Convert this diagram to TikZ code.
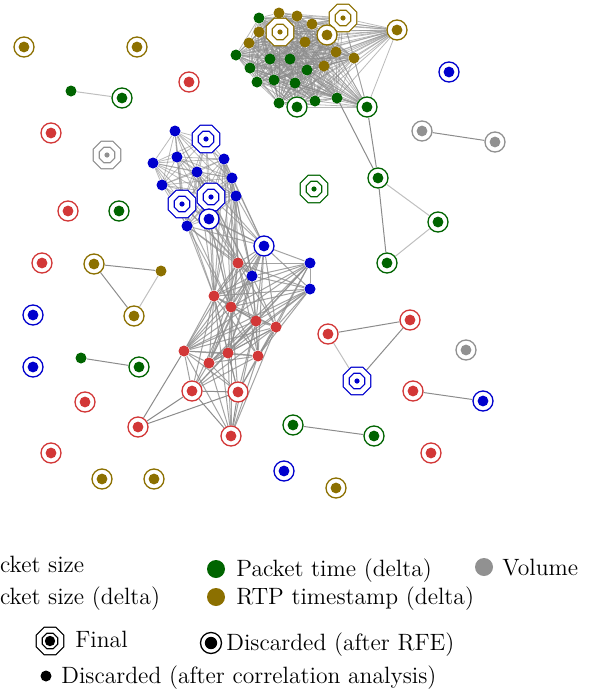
\documentclass[tikz,border=0pt]{standalone}
\usepackage{xcolor}
\usepackage{tikz}
\usetikzlibrary{shapes.geometric, positioning, backgrounds}

\definecolor{sizered}{RGB}{210,55,55}
\definecolor{deltablue}{RGB}{0,0,205}
\definecolor{timegreen}{RGB}{0,100,0}
\definecolor{rtpgold}{RGB}{140,112,0}
\definecolor{volgray}{RGB}{145,145,145}

\begin{document}
\begin{tikzpicture}[
    x=0.5pt, y=-0.5pt,
    dot/.style={circle, fill=#1, inner sep=0pt, minimum size=5.5pt},
    rfe/.style={circle, draw=#1, fill=white, line width=0.65pt, inner sep=0pt, minimum size=10pt,
        path picture={\fill[#1] (path picture bounding box.center) circle (2.7pt);}},
    final/.style={regular polygon, regular polygon sides=8, draw=#1, double=white, double distance=2.35pt,
        line width=0.65pt, fill=white, inner sep=0pt, minimum size=11.7pt, outer sep=1.8pt,
        path picture={\fill[#1] (path picture bounding box.center) circle (1.3pt);}},
    mesh/.style={draw=black!45, opacity=0.6, line width=0.4pt},
    link/.style={draw=black!45, line width=0.5pt},
    faint/.style={draw=black!25, line width=0.5pt},
    legtext/.style={anchor=base west, inner sep=0pt, font=\fontsize{11.8}{14}\selectfont}
]
    \useasboundingbox (0,0) rectangle (595,691);

    % Top cluster
    \node[dot=rtpgold] (top1) at (279,13) {};
    \node[dot=rtpgold] (top2) at (297,16) {};
    \node[dot=timegreen] (top3) at (259,18) {};
    \node[final=rtpgold] (top4) at (280,32) {};
    \node[final=rtpgold] (top5) at (343,18) {};
    \node[dot=rtpgold] (top6) at (259,32) {};
    \node[dot=rtpgold] (top7) at (312,24) {};
    \node[rfe=rtpgold] (top8) at (327,35) {};
    \node[dot=rtpgold] (top9) at (249,43) {};
    \node[dot=rtpgold] (top10) at (305,42) {};
    \node[dot=rtpgold] (top11) at (336,52) {};
    \node[dot=rtpgold] (top12) at (354,58) {};
    \node[dot=rtpgold] (top13) at (324,66) {};
    \node[dot=timegreen] (top14) at (236,55) {};
    \node[dot=timegreen] (top15) at (270,59) {};
    \node[dot=timegreen] (top16) at (290,59) {};
    \node[dot=timegreen] (top17) at (250,68) {};
    \node[dot=timegreen] (top18) at (307,70) {};
    \node[dot=timegreen] (top19) at (257,82) {};
    \node[dot=timegreen] (top20) at (274,80) {};
    \node[dot=timegreen] (top21) at (295,83) {};
    \node[dot=timegreen] (top22) at (279,103) {};
    \node[rfe=timegreen] (top23) at (297,107) {};
    \node[dot=timegreen] (top24) at (315,101) {};
    \node[dot=timegreen] (top25) at (337,98) {};
    \node[rfe=timegreen] (top26) at (367,107) {};
    \node[rfe=rtpgold] (top27) at (397,30) {};

    % Blue cluster
    \node[dot=deltablue] (blu1) at (175,131) {};
    \node[final=deltablue] (blu2) at (206,139) {};
    \node[dot=deltablue] (blu3) at (177,157) {};
    \node[dot=deltablue] (blu4) at (153,163) {};
    \node[dot=deltablue] (blu5) at (224,159) {};
    \node[dot=deltablue] (blu6) at (197,172) {};
    \node[dot=deltablue] (blu7) at (162,185) {};
    \node[dot=deltablue] (blu8) at (232,178) {};
    \node[final=deltablue] (blu9) at (211,197) {};
    \node[final=deltablue] (blu10) at (182,204) {};
    \node[dot=deltablue] (blu11) at (236,196) {};
    \node[rfe=deltablue] (blu12) at (209,219) {};
    \node[dot=deltablue] (blu13) at (187,226) {};

    % Middle cluster
    \node[rfe=deltablue] (mid1) at (264,246) {};
    \node[dot=sizered] (mid2) at (238,263) {};
    \node[dot=deltablue] (mid3) at (310,263) {};
    \node[dot=deltablue] (mid4) at (252,276) {};
    \node[dot=deltablue] (mid5) at (310,289) {};
    \node[dot=sizered] (mid6) at (214,296) {};
    \node[dot=sizered] (mid7) at (231,307) {};
    \node[dot=sizered] (mid8) at (256,321) {};
    \node[dot=sizered] (mid9) at (276,327) {};
    \node[dot=sizered] (mid10) at (184,351) {};
    \node[dot=sizered] (mid11) at (228,353) {};
    \node[dot=sizered] (mid12) at (258,356) {};
    \node[dot=sizered] (mid13) at (209,363) {};
    \node[rfe=sizered] (low1) at (192,391) {};
    \node[rfe=sizered] (low2) at (238,392) {};
    \node[rfe=sizered] (low3) at (138,427) {};
    \node[rfe=sizered] (low4) at (231,436) {};

    % Small groups and single features
    \node[rfe=rtpgold] (rtpA) at (24,47) {};
    \node[rfe=rtpgold] (rtpB) at (137,47) {};
    \node[rfe=sizered] (sizeA) at (189,82) {};
    \node[dot=timegreen] (timeA) at (71,91) {};
    \node[rfe=timegreen] (timeB) at (122,98) {};
    \node[rfe=sizered] (sizeB) at (51,133) {};
    \node[final=volgray] (volA) at (107,155) {};
    \node[rfe=sizered] (sizeC) at (68,211) {};
    \node[rfe=timegreen] (timeC) at (119,211) {};
    \node[rfe=deltablue] (deltaA) at (449,72) {};
    \node[rfe=volgray] (volB) at (422,131) {};
    \node[rfe=volgray] (volC) at (495,142) {};
    \node[final=timegreen] (timeD) at (314,189) {};
    \node[rfe=timegreen] (timeE) at (378,178) {};
    \node[rfe=timegreen] (timeF) at (438,222) {};
    \node[rfe=timegreen] (timeG) at (387,263) {};
    \node[rfe=sizered] (sizeD) at (42,263) {};
    \node[rfe=rtpgold] (rtpC) at (94,264) {};
    \node[dot=rtpgold] (rtpD) at (161,271) {};
    \node[rfe=rtpgold] (rtpE) at (134,316) {};
    \node[rfe=deltablue] (deltaB) at (33,315) {};
    \node[rfe=deltablue] (deltaC) at (33,367) {};
    \node[dot=timegreen] (timeH) at (81,358) {};
    \node[rfe=timegreen] (timeI) at (139,367) {};
    \node[rfe=sizered] (sizeE) at (85,402) {};
    \node[rfe=sizered] (sizeF) at (51,453) {};
    \node[rfe=rtpgold] (rtpF) at (102,479) {};
    \node[rfe=rtpgold] (rtpG) at (154,479) {};
    \node[rfe=sizered] (sizeG) at (328,334) {};
    \node[rfe=sizered] (sizeH) at (410,320) {};
    \node[final=deltablue] (deltaD) at (357,381) {};
    \node[rfe=volgray] (volD) at (466,350) {};
    \node[rfe=sizered] (sizeI) at (413,391) {};
    \node[rfe=deltablue] (deltaE) at (483,401) {};
    \node[rfe=timegreen] (timeJ) at (293,425) {};
    \node[rfe=timegreen] (timeK) at (374,436) {};
    \node[rfe=sizered] (sizeJ) at (431,453) {};
    \node[rfe=deltablue] (deltaF) at (284,471) {};
    \node[rfe=rtpgold] (rtpH) at (336,488) {};

    % Correlations
    \begin{scope}[on background layer]
        \foreach \i in {1,...,26}{
            \pgfmathtruncatemacro\nxt{\i+1}
            \foreach \j in {\nxt,...,27} \draw[mesh] (top\i) -- (top\j);
        }
        \foreach \i in {1,...,12}{
            \pgfmathtruncatemacro\nxt{\i+1}
            \foreach \j in {\nxt,...,13} \draw[mesh] (blu\i) -- (blu\j);
        }
        \foreach \i in {1,...,12}{
            \pgfmathtruncatemacro\nxt{\i+1}
            \foreach \j in {\nxt,...,13} \draw[link, opacity=0.8] (mid\i) -- (mid\j);
        }
        \foreach \i in {5,6,8,9,10,11,12,13}
            \foreach \j in {1,2,4,6,7} \draw[link, opacity=0.7] (blu\i) -- (mid\j);
        \foreach \i in {1,2,4}
            \foreach \j in {6,...,13} \draw[link, opacity=0.8] (low\i) -- (mid\j);
        \draw[link] (low3) -- (mid10);
        \draw[link] (low3) -- (low1);
        \draw[link] (low3) -- (low2);
        \draw[link] (low1) -- (low2);
        \draw[link] (low1) -- (low4);
        \draw[link] (low2) -- (low4);

        \draw[link] (top25) -- (timeE);
        \draw[link] (top26) -- (timeE);
        \draw[faint] (timeE) -- (timeF);
        \draw[link] (timeE) -- (timeG);
        \draw[faint] (timeF) -- (timeG);
        \draw[faint] (timeA) -- (timeB);
        \draw[link] (volB) -- (volC);
        \draw[link] (rtpC) -- (rtpD);
        \draw[link] (rtpC) -- (rtpE);
        \draw[faint] (rtpD) -- (rtpE);
        \draw[link] (timeH) -- (timeI);
        \draw[link] (sizeG) -- (sizeH);
        \draw[faint] (sizeG) -- (deltaD);
        \draw[link] (sizeH) -- (deltaD);
        \draw[link] (sizeI) -- (deltaE);
        \draw[link] (timeJ) -- (timeK);
    \end{scope}

    % Legend
    \node[legtext] (keysize) at (-27,572) {Packet size};
    \node[legtext] (keydelta) at (-27,604) {Packet size (delta)};
    \node[dot=timegreen, minimum size=9pt] (keytime) at (216,569) {};
    \node[legtext] (keytimetxt) at (236,576) {Packet time (delta)};
    \node[dot=volgray, minimum size=9pt] (keyvol) at (484,567) {};
    \node[legtext] (keyvoltxt) at (502,575) {Volume};
    \node[dot=rtpgold, minimum size=9pt] (keyrtp) at (216,597) {};
    \node[legtext] (keyrtptxt) at (236,604) {RTP timestamp (delta)};
    \node[final=black, path picture={\fill[black] (path picture bounding box.center) circle (2.6pt);}] (keyfinal) at (50,641) {};
    \node[legtext] (keyfinaltxt) at (75,647) {Final};
    \node[rfe=black, minimum size=10.5pt, path picture={\fill[black] (path picture bounding box.center) circle (3.1pt);}] (keyrfe) at (211,643) {};
    \node[legtext] (keyrfetxt) at (226,650) {Discarded (after RFE)};
    \node[dot=black] (keycorr) at (46,676) {};
    \node[legtext] (keycorrtxt) at (61,683) {Discarded (after correlation analysis)};
\end{tikzpicture}
\end{document}
